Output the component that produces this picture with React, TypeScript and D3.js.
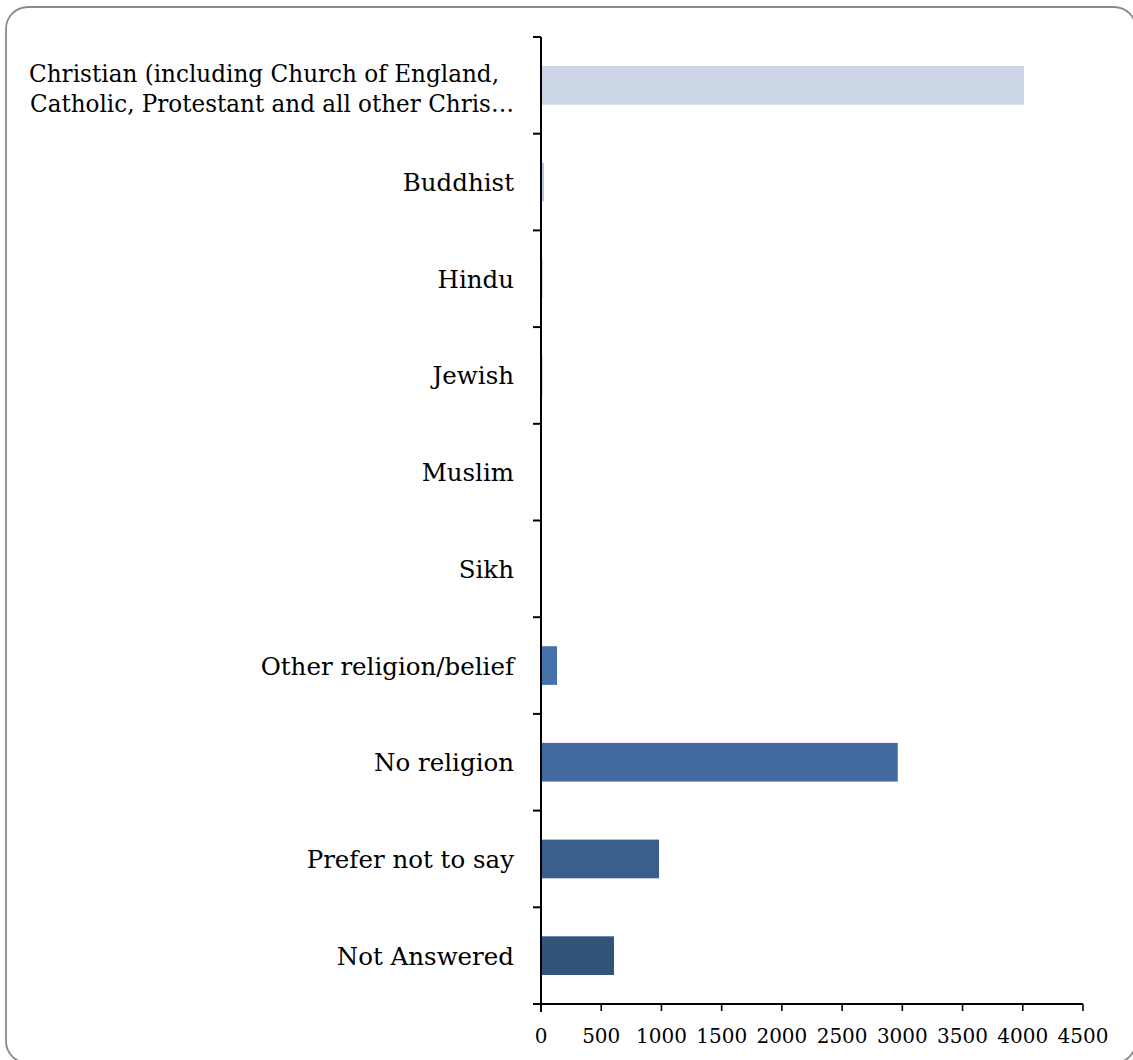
import React from "react";
import * as d3 from "d3";

const categories = [
  "Christian (including Church of England, Catholic, Protestant and all other Chris…",
  "Buddhist",
  "Hindu",
  "Jewish",
  "Muslim",
  "Sikh",
  "Other religion/belief",
  "No religion",
  "Prefer not to say",
  "Not Answered",
];
const labelLines: string[][] = [
  ["Christian (including Church of England,", "Catholic, Protestant and all other Chris…"],
  ["Buddhist"],
  ["Hindu"],
  ["Jewish"],
  ["Muslim"],
  ["Sikh"],
  ["Other religion/belief"],
  ["No religion"],
  ["Prefer not to say"],
  ["Not Answered"],
];
const values = [4010, 25, 10, 10, 2, 1, 133, 2962, 980, 606];
const colors = [
  "#cbd5e5",
  "#b7c6e0",
  "#2c4670",
  "#2c4670",
  "#2c4670",
  "#2c4670",
  "#4672ac",
  "#426aa0",
  "#3b5f8d",
  "#325479",
];
const xTicks = [0, 500, 1000, 1500, 2000, 2500, 3000, 3500, 4000, 4500];

const FONT = "'DejaVu Serif', serif";

export default function App() {
  const x = d3.scaleLinear().domain([0, 4500]).range([541, 1083]);
  const yBand = d3.scaleBand<string>().domain(categories).range([37, 1004]).padding(0);
  const yBar = d3.scaleBand<string>().domain(categories).range([37, 1004]).paddingInner(0.6).paddingOuter(0.3);
  const step = yBand.step();
  const boundaries = d3.range(categories.length + 1).map((i) => 37 + i * step);

  return (
    <svg width={1133} height={1060} style={{ position: "absolute", left: 0, top: 0, display: "block" }}>
      <rect x={0} y={0} width={1133} height={1060} fill="#fff" />
      <rect x={6} y={7} width={1130} height={1056} rx={22} ry={22} fill="#fff" stroke="#8a8a8a" strokeWidth={1.8} />
      {categories.map((c, i) => (
        <rect
          key={c}
          x={x(0)}
          y={yBar(c)}
          width={Math.max(0, x(values[i]) - x(0))}
          height={yBar.bandwidth()}
          fill={colors[i]}
        />
      ))}
      {/* y axis */}
      <line x1={541} x2={541} y1={37} y2={1012} stroke="#000" strokeWidth={2} />
      {boundaries.map((b, i) => (
        <line key={i} x1={533} x2={541} y1={b} y2={b} stroke="#000" strokeWidth={2} />
      ))}
      {/* x axis */}
      <line x1={541} x2={x(4500)} y1={1004} y2={1004} stroke="#000" strokeWidth={2} />
      {xTicks.map((t) => (
        <g key={t}>
          <line x1={x(t)} x2={x(t)} y1={1004} y2={1011} stroke="#000" strokeWidth={1.6} />
          <text x={x(t)} y={1043} textAnchor="middle" fontFamily={FONT} fontSize={20} fill="#000">
            {t}
          </text>
        </g>
      ))}
      {categories.map((c, i) => {
        const lines = labelLines[i];
        const cy = (yBand(c) as number) + step / 2;
        if (lines.length === 1) {
          return (
            <text key={c} x={514} y={cy + 9} textAnchor="end" fontFamily={FONT} fontSize={24.5} fill="#000">
              {lines[0]}
            </text>
          );
        }
        return (
          <g key={c}>
            <text x={499} y={cy - 3.5} textAnchor="end" fontFamily={FONT} fontSize={24.5} fill="#000"
              textLength={470} lengthAdjust="spacingAndGlyphs">
              {lines[0]}
            </text>
            <text x={514} y={cy + 26.5} textAnchor="end" fontFamily={FONT} fontSize={24.5} fill="#000"
              textLength={484} lengthAdjust="spacingAndGlyphs">
              {lines[1]}
            </text>
          </g>
        );
      })}
    </svg>
  );
}
